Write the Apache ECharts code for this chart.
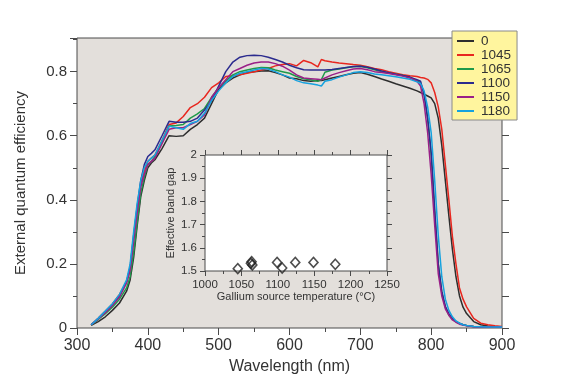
<!DOCTYPE html>
<html>
<head>
<meta charset="utf-8">
<script src="https://cdn.jsdelivr.net/npm/echarts@6/dist/echarts.min.js"></script>
<style>html,body{margin:0;padding:0;background:#fff}#c{width:579px;height:387px}</style>
</head>
<body>
<div id="c"></div>
<script>
const wavelengths = [320,330,340,350,360,370,375,380,385,390,395,400,405,410,420,430,440,450,460,470,480,490,500,510,520,530,540,550,560,570,580,590,600,610,620,630,640,645,650,660,670,680,690,700,710,720,730,740,750,760,770,780,785,790,795,800,805,810,815,820,825,830,835,840,845,850,860,870,880,890,900];
const eqe0 = [0.008,0.02,0.035,0.055,0.078,0.115,0.15,0.22,0.32,0.41,0.46,0.50,0.515,0.525,0.56,0.60,0.598,0.60,0.62,0.635,0.655,0.70,0.745,0.765,0.78,0.79,0.797,0.80,0.802,0.803,0.797,0.79,0.78,0.778,0.772,0.77,0.772,0.772,0.775,0.78,0.785,0.79,0.795,0.797,0.792,0.785,0.777,0.77,0.762,0.755,0.748,0.74,0.735,0.73,0.724,0.718,0.70,0.655,0.57,0.46,0.35,0.245,0.16,0.10,0.065,0.045,0.02,0.01,0.006,0.004,0.003];
const eqe1045 = [0.01,0.03,0.052,0.075,0.105,0.145,0.185,0.28,0.37,0.45,0.49,0.52,0.53,0.54,0.585,0.635,0.64,0.66,0.688,0.70,0.72,0.75,0.765,0.785,0.787,0.79,0.795,0.80,0.805,0.81,0.818,0.822,0.825,0.818,0.835,0.828,0.815,0.838,0.834,0.83,0.827,0.825,0.822,0.82,0.815,0.81,0.806,0.80,0.795,0.79,0.787,0.785,0.782,0.78,0.776,0.765,0.735,0.69,0.62,0.51,0.40,0.285,0.20,0.125,0.09,0.066,0.03,0.015,0.01,0.007,0.005];
const eqe1065 = [0.009,0.027,0.045,0.065,0.09,0.125,0.16,0.235,0.33,0.42,0.47,0.51,0.52,0.535,0.58,0.63,0.632,0.635,0.655,0.668,0.685,0.72,0.75,0.77,0.79,0.80,0.805,0.81,0.813,0.812,0.805,0.80,0.795,0.785,0.778,0.775,0.77,0.775,0.798,0.805,0.808,0.812,0.815,0.817,0.812,0.806,0.80,0.796,0.792,0.788,0.782,0.772,0.765,0.73,0.655,0.54,0.36,0.20,0.11,0.065,0.04,0.028,0.02,0.014,0.01,0.008,0.005,0.004,0.003,0.003,0.003];
const eqe1100 = [0.01,0.03,0.052,0.074,0.10,0.145,0.19,0.29,0.38,0.46,0.51,0.535,0.545,0.556,0.60,0.645,0.642,0.642,0.645,0.655,0.68,0.71,0.755,0.80,0.83,0.845,0.85,0.851,0.85,0.845,0.838,0.83,0.82,0.812,0.806,0.805,0.805,0.805,0.805,0.807,0.81,0.813,0.816,0.817,0.814,0.808,0.802,0.797,0.792,0.788,0.783,0.775,0.77,0.73,0.655,0.55,0.37,0.20,0.115,0.068,0.045,0.03,0.02,0.015,0.01,0.008,0.005,0.004,0.003,0.003,0.003];
const eqe1150 = [0.01,0.028,0.048,0.07,0.097,0.14,0.18,0.27,0.36,0.44,0.48,0.51,0.52,0.53,0.575,0.62,0.625,0.625,0.635,0.645,0.665,0.72,0.75,0.775,0.80,0.81,0.82,0.827,0.83,0.83,0.825,0.817,0.805,0.79,0.78,0.778,0.776,0.775,0.78,0.79,0.797,0.803,0.808,0.81,0.806,0.80,0.797,0.794,0.79,0.786,0.78,0.77,0.755,0.70,0.61,0.48,0.32,0.17,0.10,0.06,0.04,0.025,0.018,0.012,0.009,0.007,0.004,0.003,0.003,0.003,0.003];
const eqe1180 = [0.01,0.03,0.053,0.076,0.105,0.15,0.20,0.30,0.39,0.46,0.50,0.52,0.53,0.54,0.585,0.63,0.625,0.62,0.638,0.645,0.67,0.71,0.74,0.765,0.785,0.795,0.80,0.805,0.81,0.808,0.80,0.79,0.783,0.772,0.765,0.762,0.758,0.755,0.77,0.775,0.783,0.79,0.797,0.80,0.797,0.793,0.79,0.787,0.784,0.78,0.776,0.768,0.763,0.74,0.69,0.61,0.46,0.29,0.16,0.09,0.055,0.035,0.022,0.015,0.01,0.008,0.005,0.004,0.003,0.003,0.003];

const seriesNames = ['0','1045','1065','1100','1150','1180'];
const seriesColors = ['#2e2e2e','#e8271f','#1f9a4a','#2b2b8e','#9a2088','#16a2df'];

const tempC = [1045,1063,1064,1065,1099,1106,1124,1149,1179];
const bandGap = [1.51,1.533,1.54,1.526,1.537,1.513,1.537,1.537,1.529];

const FONT = "'Liberation Sans', Arial, Helvetica, sans-serif";
const allEqe = [eqe0,eqe1045,eqe1065,eqe1100,eqe1150,eqe1180];

const chart = echarts.init(document.getElementById('c'), null, {renderer:'canvas'});
const axCol = '#4a4a4a';

const lineSeries = allEqe.map((arr, k) => ({
  name: seriesNames[k], type: 'line', xAxisIndex: 0, yAxisIndex: 0,
  data: wavelengths.map((w,i)=>[w, arr[i]]),
  showSymbol: false, symbol: 'none', smooth: false,
  lineStyle: {width: 1.5, color: seriesColors[k]}, itemStyle: {color: seriesColors[k]},
  z: 2, silent: true, animation: false
}));

chart.setOption({
  animation: false,
  textStyle: {fontFamily: FONT},
  grid: [
    {left: 77, right: 77, top: 38, bottom: 59, show: true, backgroundColor: '#e3dfdb', borderColor: axCol, borderWidth: 1},
    {left: 205, right: 192, top: 155, bottom: 116, show: true, backgroundColor: '#ffffff', borderColor: axCol, borderWidth: 1, z: 5}
  ],
  legend: {
    data: seriesNames, orient: 'vertical', left: 452, top: 31,
    backgroundColor: '#fff59e', borderColor: '#8a8a8a', borderWidth: 1,
    padding: [3, 6, 2, 5], itemGap: 0, itemWidth: 17, itemHeight: 2, icon: 'rect',
    textStyle: {fontSize: 13.5, color: '#333', fontFamily: FONT, lineHeight: 14, padding: [0,0,0,2]},
    z: 10
  },
  xAxis: [
    {gridIndex: 0, type: 'value', min: 300, max: 900, interval: 100,
     axisLine: {show: false}, splitLine: {show: false},
     axisTick: {show: true, inside: false, length: 7, lineStyle: {color: axCol, width: 1}},
     minorTick: {show: true, splitNumber: 2, length: 4, lineStyle: {color: axCol, width: 1}},
     axisLabel: {fontSize: 16, color: '#333', margin: 10, fontFamily: FONT},
     name: 'Wavelength (nm)', nameLocation: 'middle', nameGap: 29,
     nameTextStyle: {fontSize: 16, color: '#333', fontFamily: FONT}},
    {gridIndex: 1, type: 'value', min: 1000, max: 1250, interval: 50,
     axisLine: {show: false}, splitLine: {show: false},
     axisTick: {show: true, inside: false, length: 5, lineStyle: {color: axCol}},
     minorTick: {show: true, splitNumber: 2, length: 3, lineStyle: {color: axCol}},
     axisLabel: {fontSize: 11.5, color: '#333', margin: 8, fontFamily: FONT, formatter: v => String(Math.round(v))},
     name: 'Gallium source temperature (\u00b0C)', nameLocation: 'middle', nameGap: 20,
     nameTextStyle: {fontSize: 11, color: '#333', fontFamily: FONT}, z: 6},
    {gridIndex: 1, type: 'value', position: 'top', min: 1000, max: 1250, interval: 50,
     axisLine: {show: false}, splitLine: {show: false},
     axisTick: {show: true, inside: false, length: 5, lineStyle: {color: axCol}},
     minorTick: {show: true, splitNumber: 2, length: 3, lineStyle: {color: axCol}},
     axisLabel: {show: false}, z: 6}
  ],
  yAxis: [
    {gridIndex: 0, type: 'value', min: 0, max: 0.905, interval: 0.2,
     axisLine: {show: false}, splitLine: {show: false},
     axisTick: {show: true, inside: false, length: 7, lineStyle: {color: axCol}},
     minorTick: {show: true, splitNumber: 2, length: 4, lineStyle: {color: axCol}},
     axisLabel: {fontSize: 15, color: '#333', margin: 10, fontFamily: FONT, showMaxLabel: false,
       formatter: v => { const r = Math.round(v*5); if (Math.abs(v*5 - r) > 1e-6 || v > 0.9) return ''; return r === 0 ? '0' : (r/5).toFixed(1); }},
     name: 'External quantum efficiency', nameLocation: 'middle', nameGap: 49, nameRotate: 90,
     nameTextStyle: {fontSize: 15, color: '#333', fontFamily: FONT}},
    {gridIndex: 0, type: 'value', position: 'right', min: 0, max: 0.905, interval: 0.1,
     axisLine: {show: false}, splitLine: {show: false},
     axisTick: {show: true, inside: false, length: 7, lineStyle: {color: axCol}},
     axisLabel: {show: false}},
    {gridIndex: 1, type: 'value', min: 1.5, max: 2, interval: 0.1,
     axisLine: {show: false}, splitLine: {show: false},
     axisTick: {show: true, inside: false, length: 5, lineStyle: {color: axCol}},
     minorTick: {show: true, splitNumber: 2, length: 3, lineStyle: {color: axCol}},
     axisLabel: {fontSize: 11.5, color: '#333', margin: 8, fontFamily: FONT,
       formatter: v => Math.abs(v-2) < 1e-6 ? '2' : v.toFixed(1)},
     name: 'Effective band gap', nameLocation: 'middle', nameGap: 29, nameRotate: 90,
     nameTextStyle: {fontSize: 11, color: '#333', fontFamily: FONT}, z: 6},
    {gridIndex: 1, type: 'value', position: 'right', min: 1.5, max: 2, interval: 0.1,
     axisLine: {show: false}, splitLine: {show: false},
     axisTick: {show: true, inside: false, length: 5, lineStyle: {color: axCol}},
     minorTick: {show: true, splitNumber: 2, length: 3, lineStyle: {color: axCol}},
     axisLabel: {show: false}, z: 6}
  ],
  series: lineSeries.concat([{
    name: 'bandgap', type: 'scatter', xAxisIndex: 1, yAxisIndex: 2,
    data: tempC.map((t,i)=>[t, bandGap[i]]),
    symbol: 'diamond', symbolSize: [9, 10],
    itemStyle: {color: 'rgba(255,255,255,0)', borderColor: '#222', borderWidth: 1.6},
    z: 7, silent: true
  }])
});
</script>
</body>
</html>
